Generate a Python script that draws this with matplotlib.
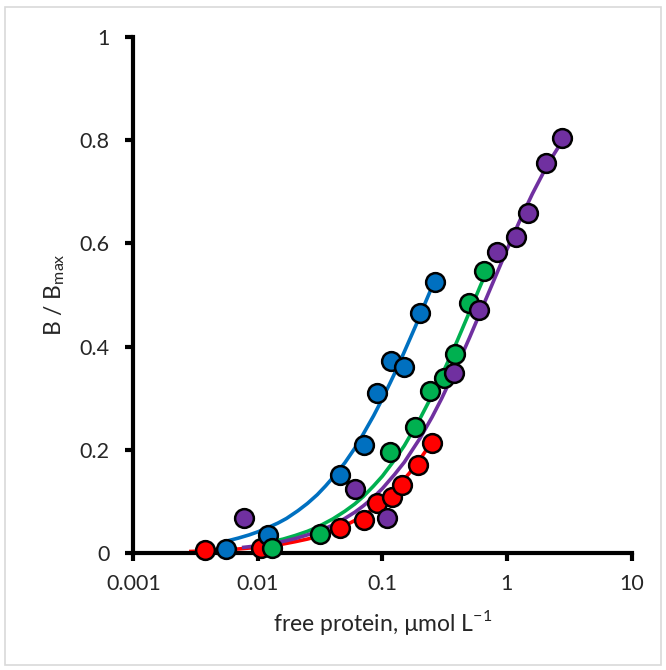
import matplotlib
matplotlib.use("Agg")
import matplotlib.pyplot as plt
from matplotlib.patches import Rectangle

plt.rcParams['font.family'] = ['Lato', 'DejaVu Sans']

# measured points (free protein, B/Bmax)
blue_x = [0.00558, 0.0120, 0.0459, 0.0718, 0.0912, 0.1173, 0.150, 0.199, 0.264]
blue_y = [0.008, 0.035, 0.151, 0.209, 0.311, 0.373, 0.360, 0.466, 0.526]
green_x = [0.0130, 0.0313, 0.1152, 0.1824, 0.242, 0.311, 0.381, 0.500, 0.659]
green_y = [0.009, 0.036, 0.196, 0.244, 0.313, 0.339, 0.385, 0.485, 0.547]
red_x = [0.00374, 0.01063, 0.0459, 0.0713, 0.0912, 0.120, 0.143, 0.194, 0.248]
red_y = [0.006, 0.010, 0.048, 0.064, 0.096, 0.109, 0.132, 0.171, 0.214]
purple_x = [0.00773, 0.0604, 0.1096, 0.374, 0.601, 0.832, 1.188, 1.472, 2.05, 2.79]
purple_y = [0.067, 0.125, 0.067, 0.348, 0.471, 0.584, 0.613, 0.658, 0.755, 0.804]

# fitted curves
blue_fx = [0.0056, 0.007, 0.0085, 0.01, 0.012, 0.0145, 0.017, 0.021, 0.025, 0.03, 0.035, 0.042,
           0.05, 0.06, 0.07, 0.085, 0.1, 0.115, 0.13, 0.15, 0.17, 0.195, 0.22, 0.264]
blue_fy = [0.023, 0.029, 0.035, 0.041, 0.049, 0.058, 0.067, 0.082, 0.096, 0.113, 0.130, 0.152,
           0.175, 0.203, 0.230, 0.266, 0.299, 0.329, 0.356, 0.390, 0.420, 0.453, 0.484, 0.529]
green_fx = [0.013, 0.016, 0.02, 0.025, 0.03, 0.04, 0.05, 0.06, 0.07, 0.085, 0.1, 0.125, 0.15,
            0.2, 0.25, 0.3, 0.35, 0.4, 0.5, 0.6, 0.659]
green_fy = [0.022, 0.027, 0.034, 0.042, 0.050, 0.066, 0.081, 0.095, 0.109, 0.130, 0.149, 0.180,
            0.208, 0.260, 0.305, 0.345, 0.380, 0.412, 0.467, 0.513, 0.536]
red_fx = [0.0029, 0.004, 0.005, 0.0065, 0.008, 0.01, 0.012, 0.016, 0.02, 0.025, 0.03, 0.04, 0.05,
          0.06, 0.07, 0.085, 0.1, 0.12, 0.14, 0.165, 0.19, 0.22, 0.248]
red_fy = [0.003, 0.0044, 0.0055, 0.0072, 0.009, 0.011, 0.013, 0.0175, 0.022, 0.027, 0.032, 0.043,
          0.053, 0.063, 0.072, 0.086, 0.100, 0.118, 0.135, 0.155, 0.174, 0.196, 0.216]
purple_fx = [0.0077, 0.01, 0.015, 0.02, 0.03, 0.04, 0.05, 0.06, 0.07, 0.085, 0.1, 0.125, 0.15,
             0.2, 0.25, 0.3, 0.4, 0.5, 0.6, 0.7, 0.8, 1.0, 1.3, 1.6, 2.0, 2.4, 2.79]
purple_fy = [0.011, 0.014, 0.021, 0.028, 0.041, 0.054, 0.067, 0.079, 0.091, 0.108, 0.125, 0.152,
             0.176, 0.222, 0.263, 0.300, 0.364, 0.417, 0.462, 0.500, 0.533, 0.588, 0.650, 0.696,
             0.741, 0.774, 0.799]

x_ticks = [0.001, 0.01, 0.1, 1, 10]
x_labels = ['0.001', '0.01', '0.1', '1', '10']
y_ticks = [0, 0.2, 0.4, 0.6, 0.8, 1]
y_labels = ['0', '0.2', '0.4', '0.6', '0.8', '1']

c_blue = '#0070C0'
c_green = '#00B050'
c_red = '#FF0000'
c_purple = '#7030A0'

fig = plt.figure(figsize=(6.66, 6.70), dpi=100)
fig.patches.append(Rectangle((5 / 666, 5 / 670), 656 / 666, 658 / 670, transform=fig.transFigure,
                             fill=False, edgecolor='#d9d9d9', linewidth=1.2))
ax = fig.add_axes([133.3 / 666, 117 / 670, 498.2 / 666, 516 / 670])

# curves
ax.plot(red_fx, red_fy, color=c_red, lw=2.6, zorder=2)
ax.plot(blue_fx, blue_fy, color=c_blue, lw=2.6, zorder=2)
ax.plot(green_fx, green_fy, color=c_green, lw=2.6, zorder=2)
ax.plot(purple_fx, purple_fy, color=c_purple, lw=2.6, zorder=2)

# markers
mk = dict(marker='o', ms=13.5, mec='black', mew=1.8, ls='none', zorder=3, clip_on=False)
ax.plot(red_x, red_y, mfc=c_red, **mk)
ax.plot(blue_x, blue_y, mfc=c_blue, **mk)
ax.plot(green_x, green_y, mfc=c_green, **mk)
ax.plot(purple_x, purple_y, mfc=c_purple, **mk)

ax.set_xscale('log')
ax.set_xlim(0.001, 10)
ax.set_ylim(0, 1)
ax.set_xticks(x_ticks)
ax.set_xticklabels(x_labels)
ax.minorticks_off()
ax.set_yticks(y_ticks)
ax.set_yticklabels(y_labels)

for s in ['top', 'right']:
    ax.spines[s].set_visible(False)
for s in ['left', 'bottom']:
    ax.spines[s].set_linewidth(3)
    ax.spines[s].set_capstyle('projecting')
ax.tick_params(axis='both', direction='out', length=6, width=3, labelsize=15.5, colors='black',
               labelcolor='#262626')
ax.tick_params(axis='y', pad=11)
ax.tick_params(axis='x', pad=9)

ax.set_xlabel('free protein, µmol L$^{\\mathregular{-1}}$', fontsize=16.5, color='#262626',
              labelpad=10)
ax.set_ylabel('B / B$_{\\mathregular{max}}$', fontsize=16.5, color='#262626', labelpad=9)

fig.savefig('out.png', dpi=100)
